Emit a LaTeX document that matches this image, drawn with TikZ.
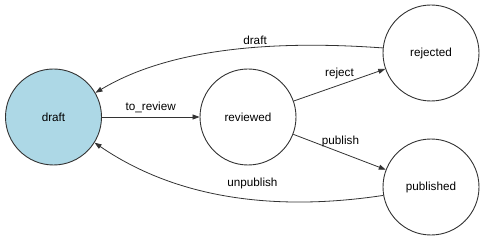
\documentclass[tikz,border=0pt]{standalone}
\RequirePackage{fontspec}
\setmainfont{Liberation Sans}
\usetikzlibrary{arrows.meta}
\definecolor{edgegray}{HTML}{333333}
\definecolor{startblue}{HTML}{ADD8E6}

\begin{document}
\begin{tikzpicture}[x=1pt,y=-1pt,
                    font=\fontsize{11.7}{14}\selectfont,
                    state/.style={circle,draw=edgegray,line width=0.9pt,minimum size=96pt,inner sep=0pt},
                    trans/.style={draw=edgegray,line width=0.8pt,-{Triangle[length=7pt,width=5pt]}},
                    lbl/.style={inner sep=0pt,text=black}]
                    \useasboundingbox (0,0) rectangle (484,240);
                    % states
                    \node[state,fill=startblue] (draft) at (53.5,117) {draft};
                    \node[state] (reviewed) at (248,117) {reviewed};
                    \node[state] (rejected) at (431,53) {rejected};
                    \node[state] (published) at (431,187) {published};
                    % transitions
                    \draw[trans] (draft) -- (reviewed)
                        node[lbl,midway,above=4pt] {to\_review};
                    \draw[trans] (reviewed) -- (rejected)
                        node[lbl,midway,above=6pt] {reject};
                    \draw[trans] (reviewed) -- (published)
                        node[lbl,midway,above=5pt,xshift=1pt] {publish};
                    \draw[trans] (rejected.174) .. controls (300,42) and (180,42) .. (draft.30)
                        node[lbl,pos=0.45,above=3pt] {draft};
                    \draw[trans] (published.190) .. controls (300,208) and (190,208) .. (draft.-32)
                        node[lbl,pos=0.47,above=10pt] {unpublish};
                \end{tikzpicture}
\end{document}
